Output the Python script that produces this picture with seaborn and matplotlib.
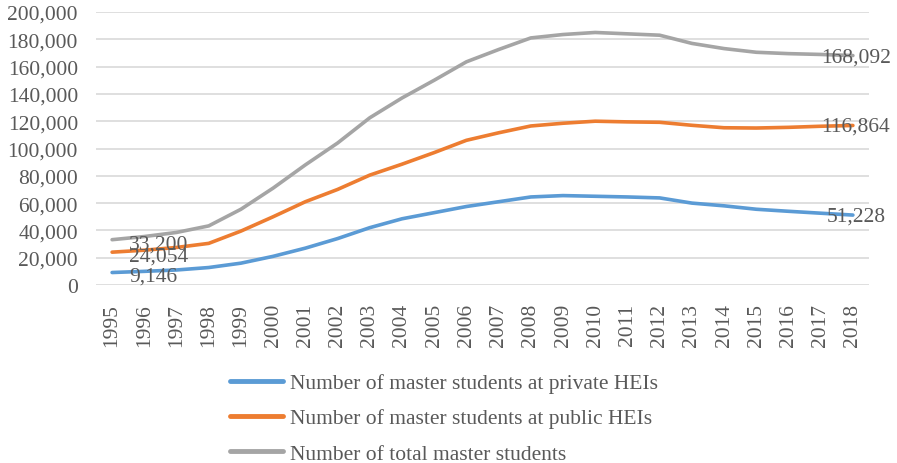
import matplotlib
matplotlib.use("Agg")
import matplotlib.pyplot as plt
import seaborn as sns
import pandas as pd
from matplotlib.ticker import FuncFormatter
from matplotlib.transforms import offset_copy
from matplotlib.lines import Line2D

years = list(range(1995, 2019))
private = [9146, 10000, 11000, 12800, 16000, 21000, 27000, 34000, 42000, 48500,
           53000, 57500, 61000, 64500, 65500, 65000, 64500, 63800, 60000, 58000,
           55500, 54000, 52600, 51228]
public = [24054, 25500, 27500, 30500, 39500, 50000, 61000, 70000, 80500, 88500,
          97000, 106000, 111500, 116500, 118500, 120000, 119500, 119200, 117000, 115200,
          115000, 115500, 116300, 116864]
total = [33200, 35500, 38500, 43300, 55500, 71000, 88000, 104000, 122500, 137000,
         150000, 163500, 172500, 181000, 183500, 185000, 184000, 183000, 177000, 173200,
         170500, 169500, 168900, 168092]
series_names = ["Number of master students at private HEIs",
                "Number of master students at public HEIs",
                "Number of total master students"]
colors = ["#5B9BD5", "#ED7D31", "#A5A5A5"]

sns.set_theme(style="white")
plt.rcParams["font.family"] = ["Liberation Serif", "DejaVu Serif"]
text_color = "#595959"
fs = 15.5

rows = []
for name, vals in zip(series_names, [private, public, total]):
    for i, (y, v) in enumerate(zip(years, vals)):
        rows.append({"idx": i, "year": y, "value": v, "series": name})
df = pd.DataFrame(rows)

fig = plt.figure(figsize=(8.97, 4.64), dpi=100)
ax = fig.add_axes([96/897, 1-286/464, (869-96)/897, (286-13)/464])

sns.lineplot(data=df, x="idx", y="value", hue="series", hue_order=series_names,
             palette=colors, linewidth=2.6, ax=ax, legend=False)
for line in ax.lines:
    line.set_solid_capstyle("round")

ax.set_xlim(-0.5, len(years) - 0.5)
ax.set_ylim(0, 200000)
ax.set_yticks(range(0, 200001, 20000))
ax.yaxis.set_major_formatter(FuncFormatter(lambda v, p: f"{int(v):,}"))
ax.set_xticks(range(len(years)))
ax.set_xticklabels([str(y) for y in years], rotation=90)
ax.grid(axis="y", color="#D9D9D9", linewidth=1.2)
ax.set_axisbelow(True)
for s in ax.spines.values():
    s.set_visible(False)
ax.tick_params(axis="both", length=0, labelsize=fs, colors=text_color)
ax.tick_params(axis="y", pad=13)
ax.tick_params(axis="x", pad=13)
ax.set_xlabel("")
ax.set_ylabel("")

# data labels
for vals in [private, public, total]:
    t0 = offset_copy(ax.transData, fig=fig, x=17, y=-4, units="dots")
    ax.text(0, vals[0], f"{vals[0]:,}", transform=t0, ha="left", va="center",
            fontsize=fs, color=text_color)
    t1 = offset_copy(ax.transData, fig=fig, x=3, y=-1, units="dots")
    ax.text(len(years) - 1, vals[-1], f"{vals[-1]:,}", transform=t1, ha="center",
            va="center", fontsize=fs, color=text_color)

handles = [Line2D([0], [0], color=c, linewidth=3.5, solid_capstyle="round") for c in colors]
fig.legend(handles, series_names, loc="upper left", bbox_to_anchor=(230/897, 1-374/464),
           frameon=False, fontsize=fs, labelcolor=text_color, handlelength=2.46,
           handletextpad=0.33, labelspacing=0.71, borderpad=0, borderaxespad=0)

fig.savefig("out.png", dpi=100)
